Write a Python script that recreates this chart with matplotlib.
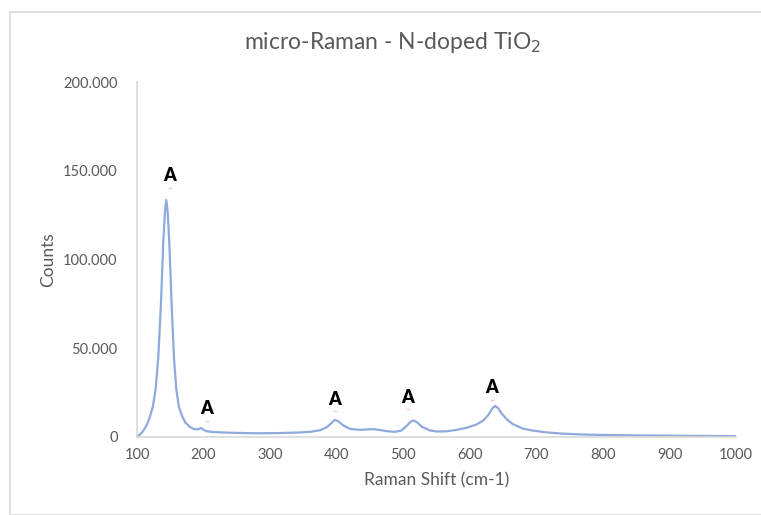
import matplotlib.pyplot as plt
import matplotlib.patches as patches
from matplotlib.ticker import FuncFormatter

# spectrum (Raman shift cm-1, counts)
shift = [100, 104, 108, 112, 116, 120, 124, 128, 132, 136, 139.5, 142, 144, 146,
         148.5, 152, 155.5, 159, 163, 168, 173, 179, 186, 192, 196, 199, 204, 212,
         225, 250, 280, 310, 340, 360, 375, 385, 392, 397, 402, 410, 420, 435,
         446, 454, 462, 475, 487, 497, 505, 511, 515, 520, 528, 540, 551, 565,
         580, 595, 610, 620, 628, 634, 638, 642, 648, 656, 665, 680, 695, 715,
         740, 770, 800, 850, 900, 950, 1000]
counts = [600, 1300, 2800, 5000, 8000, 12000, 17500, 27000, 45000, 75000, 110000,
          127000, 133500, 127000, 110000, 75000, 45000, 27000, 17000, 11500, 8000,
          5800, 4400, 4300, 5100, 4300, 3300, 2900, 2600, 2300, 2100, 2200, 2500,
          2900, 3800, 5500, 7800, 9600, 9000, 6500, 4600, 4000, 4300, 4400, 4100,
          3300, 2900, 3600, 6200, 8600, 9300, 8500, 5800, 3700, 3100, 3200, 4000,
          5200, 7000, 9200, 12500, 16200, 17500, 16500, 13200, 9800, 7200, 4700,
          3600, 2600, 1900, 1400, 1150, 900, 750, 600, 500]

peak_labels = ["A", "A", "A", "A", "A"]
label_x = [149.5, 205, 397.5, 507, 633]
label_y = [147500, 15800, 21400, 22500, 28000]
mark_y = [140500, 8800, 14400, 15500, 21000]

plt.rcParams['font.family'] = ['Lato', 'DejaVu Sans']

fig = plt.figure(figsize=(7.61, 5.15), dpi=100)
fig.patches.append(patches.Rectangle((10 / 761, 0), 1.0, 1 - 12 / 515,
                                     transform=fig.transFigure, fill=False,
                                     edgecolor='#d9d9d9', linewidth=1.2))

ax = fig.add_axes([137 / 761, 1 - 437 / 515, 599 / 761, 355 / 515])
ax.plot(shift, counts, color='#8eaadc', linewidth=1.6)

for t, x, y, my in zip(peak_labels, label_x, label_y, mark_y):
    ax.text(x, y, t, ha='center', va='center', fontsize=13, fontweight='heavy',
            color='black')
    ax.plot([x - 1.2, x + 1.2], [my, my], color='#f7c4c4', linewidth=1)

ax.set_xlim(100, 1000)
ax.set_ylim(0, 200000)
ax.set_xticks(range(100, 1001, 100))
ax.set_yticks(range(0, 200001, 50000))
ax.yaxis.set_major_formatter(FuncFormatter(lambda v, p: f"{int(v):,}".replace(",", ".")))
ax.tick_params(length=0, labelsize=10.5, labelcolor='#595959', pad=8)
ax.tick_params(axis='y', pad=14)

for side in ['top', 'right']:
    ax.spines[side].set_visible(False)
for side in ['left', 'bottom']:
    ax.spines[side].set_color('#d9d9d9')
    ax.spines[side].set_linewidth(1.2)

ax.set_xlabel("Raman Shift (cm-1)", fontsize=12.5, color='#595959', labelpad=7)
ax.set_ylabel("Counts", fontsize=12.5, color='#595959', labelpad=5)

fig.text(0.516, 0.918, "micro-Raman - N-doped TiO$_2$", ha='center', va='center',
         fontsize=16.5, color='#595959')

fig.savefig("out.png", dpi=100)
